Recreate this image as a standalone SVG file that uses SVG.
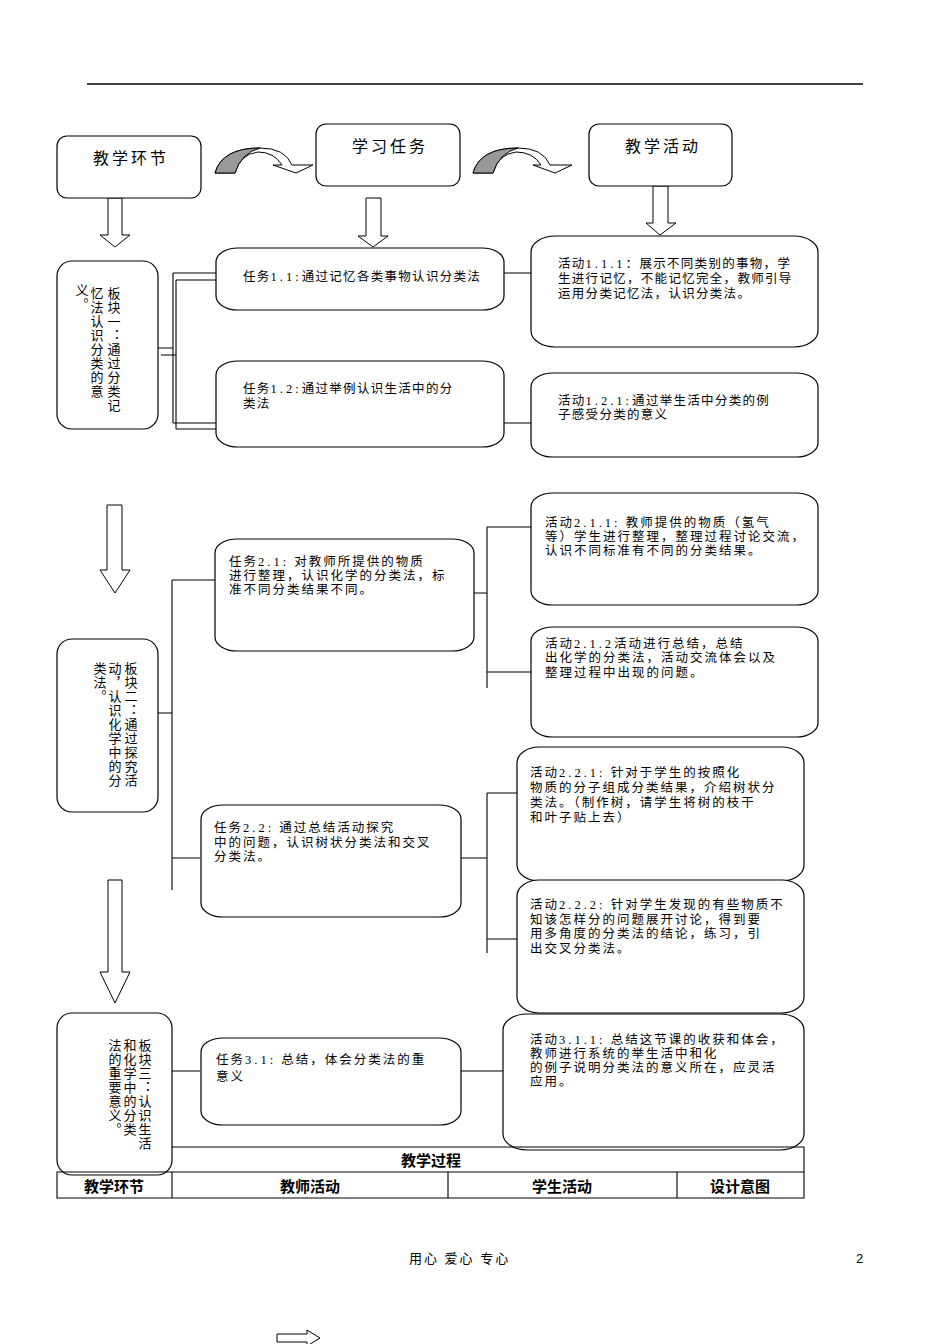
<svg xmlns="http://www.w3.org/2000/svg" width="950" height="1344" viewBox="0 0 950 1344">
<style>
.bx{fill:#fff;stroke:#000;stroke-width:1.2}
.ln{fill:none;stroke:#000;stroke-width:1.1}
.ar{fill:#fff;stroke:#000;stroke-width:1}
.gr{fill:#999;stroke:#000;stroke-width:1}
.t{font-family:"Liberation Serif","Noto Sans CJK SC",serif;font-size:12.5px;letter-spacing:1.3px;fill:#000}
.t2{font-family:"Liberation Serif","Noto Sans CJK SC",serif;font-size:12.5px;letter-spacing:2px;fill:#000}
.n{letter-spacing:3px}
.h{font-family:"Liberation Serif","Noto Sans CJK SC",serif;font-size:16px;letter-spacing:3px;fill:#000;text-anchor:middle}
.v{font-family:"Liberation Serif","Noto Sans CJK SC",serif;font-size:13px;letter-spacing:0.9px;fill:#000;writing-mode:vertical-rl}
.tb{font-family:"Liberation Sans","Noto Sans CJK SC",sans-serif;font-size:15px;font-weight:bold;fill:#000;text-anchor:middle}
.f{font-family:"Liberation Sans","Noto Sans CJK SC",sans-serif;font-size:13px;fill:#000}
</style>
<line x1="87" y1="84" x2="863" y2="84" stroke="#000" stroke-width="1.6"/>

<g id="connectors">
  <path class="ar" d="M215,173 Q222,148 260,148 Q285,148 292,165 L313,165 L296,173 L273,165 L282,165 Q274,152 258,152 Q240,154 235,173 Z"/>
  <path class="gr" d="M215,173 Q222,148 260,148 Q241,153 235,173 Z"/>
  <path class="ar" d="M473,173 Q480,148 518,148 Q543,148 550,165 L572,165 L555,173 L533,165 L541,165 Q533,152 516,152 Q498,154 493,173 Z"/>
  <path class="gr" d="M473,173 Q480,148 518,148 Q499,153 493,173 Z"/>
  <path class="ar" d="M108,198 L122,198 L122,235 L130,235 L115,247 L100,235 L108,235 Z"/>
  <path class="ar" d="M366,198 L381,198 L381,236 L388,236 L373,247 L358,236 L366,236 Z"/>
  <path class="ar" d="M653,186 L668,186 L668,223 L676,223 L660,235 L646,223 L653,223 Z"/>
  <path class="ar" d="M107,505 L122,505 L122,570 L130,570 L115,593 L100,570 L107,570 Z"/>
  <path class="ar" d="M108,880 L122,880 L122,972 L130,972 L115,1003 L100,972 L108,972 Z"/>
  <path class="ln" d="M158,348 H173 M161,355 H176 M173,273 V423 M176,280 V429 M173,273 H216 M176,280 H216 M173,423 H216 M176,429 H216"/>
  <path class="ln" d="M504,273 H531 M504,423 H531"/>
  <path class="ln" d="M158,713 H172 M172,580 V890 M172,580 H215 M172,858 H200"/>
  <path class="ln" d="M474,593 H487 M487,527 V688 M487,527 H531 M487,672 H531"/>
  <path class="ln" d="M461,858 H487 M487,793 V953 M487,793 H517 M487,939 H517"/>
  <path class="ln" d="M172,1071 H200 M461,1071 H503"/>
</g>

<g id="hdr1"><rect class="bx" x="57" y="136" width="144" height="62" rx="10"/><text class="h" x="131" y="164">教学环节</text></g>
<g id="hdr2"><rect class="bx" x="316" y="124" width="144" height="62" rx="10"/><text class="h" x="390" y="152">学习任务</text></g>
<g id="hdr3"><rect class="bx" x="589" y="124" width="143" height="62" rx="10"/><text class="h" x="663" y="152">教学活动</text></g>

<g id="block1"><rect class="bx" x="57" y="261" width="101" height="168" rx="15"/>
  <text class="v" x="113" y="287">板块一：通过分类记</text>
  <text class="v" x="96" y="287">忆法认识分类的意</text>
  <text class="v" x="81" y="284">义。</text>
</g>
<g id="task11"><rect class="bx" x="216" y="248" width="288" height="62" rx="22" ry="14"/>
  <text class="t" x="243" y="281">任务<tspan class="n">1.1:</tspan>通过记忆各类事物认识分类法</text></g>
<g id="task12"><rect class="bx" x="216" y="361" width="288" height="86" rx="22" ry="14"/>
  <text class="t" x="243" y="393">任务<tspan class="n">1.2:</tspan>通过举例认识生活中的分</text>
  <text class="t" x="243" y="408">类法</text></g>
<g id="act111"><rect class="bx" x="531" y="236" width="287" height="111" rx="24" ry="16"/>
  <text class="t" x="558" y="268">活动<tspan class="n">1.1.1</tspan>：展示不同类别的事物，学</text>
  <text class="t" x="558" y="283">生进行记忆，不能记忆完全，教师引导</text>
  <text class="t" x="558" y="298">运用分类记忆法，认识分类法。</text></g>
<g id="act121"><rect class="bx" x="531" y="373" width="287" height="84" rx="22" ry="14"/>
  <text class="t" x="558" y="405">活动<tspan class="n">1.2.1:</tspan>通过举生活中分类的例</text>
  <text class="t" x="558" y="419">子感受分类的意义</text></g>

<g id="block2"><rect class="bx" x="57" y="639" width="101" height="173" rx="15"/>
  <text class="v" x="130" y="662">板块二：通过探究活</text>
  <text class="v" x="114" y="662">动，认识化学中的分</text>
  <text class="v" x="99" y="662">类法。</text>
</g>
<g id="task21"><rect class="bx" x="215" y="539" width="259" height="112" rx="22" ry="14"/>
  <text class="t2" x="229" y="566">任务<tspan class="n">2.1:</tspan> 对教师所提供的物质</text>
  <text class="t2" x="229" y="580">进行整理，认识化学的分类法，标</text>
  <text class="t2" x="229" y="594">准不同分类结果不同。</text></g>
<g id="act211"><rect class="bx" x="531" y="493" width="287" height="112" rx="22" ry="14"/>
  <text class="t2" x="545" y="527">活动<tspan class="n">2.1.1:</tspan> 教师提供的物质（氢气</text>
  <text class="t2" x="545" y="541">等）学生进行整理，整理过程讨论交流，</text>
  <text class="t2" x="545" y="555">认识不同标准有不同的分类结果。</text></g>
<g id="act212"><rect class="bx" x="531" y="627" width="287" height="110" rx="22" ry="14"/>
  <text class="t2" x="545" y="648">活动<tspan class="n">2.1.2</tspan>活动进行总结，总结</text>
  <text class="t2" x="545" y="662">出化学的分类法，活动交流体会以及</text>
  <text class="t2" x="545" y="677">整理过程中出现的问题。</text></g>
<g id="task22"><rect class="bx" x="201" y="805" width="260" height="112" rx="22" ry="14"/>
  <text class="t2" x="214" y="832">任务<tspan class="n">2.2:</tspan> 通过总结活动探究</text>
  <text class="t2" x="214" y="847">中的问题，认识树状分类法和交叉</text>
  <text class="t2" x="214" y="861">分类法。</text></g>
<g id="act221"><rect class="bx" x="517" y="747" width="287" height="134" rx="22" ry="16"/>
  <text class="t2" x="530" y="777">活动<tspan class="n">2.2.1:</tspan> 针对于学生的按照化</text>
  <text class="t2" x="530" y="792">物质的分子组成分类结果，介绍树状分</text>
  <text class="t2" x="530" y="807">类法。（制作树，请学生将树的枝干</text>
  <text class="t2" x="530" y="822">和叶子贴上去）</text></g>
<g id="act222"><rect class="bx" x="517" y="880" width="287" height="133" rx="22" ry="16"/>
  <text class="t2" x="530" y="909">活动<tspan class="n">2.2.2:</tspan> 针对学生发现的有些物质不</text>
  <text class="t2" x="530" y="924">知该怎样分的问题展开讨论，得到要</text>
  <text class="t2" x="530" y="938">用多角度的分类法的结论，练习，引</text>
  <text class="t2" x="530" y="953">出交叉分类法。</text></g>

<g id="block3"><rect class="bx" x="57" y="1013" width="115" height="162" rx="15"/>
  <text class="v" x="144" y="1039">板块三：认识生活</text>
  <text class="v" x="129" y="1039">和化学中的分类</text>
  <text class="v" x="114" y="1039">法的重要意义。</text>
</g>
<g id="task31"><rect class="bx" x="201" y="1038" width="260" height="87" rx="22" ry="14"/>
  <text class="t2" x="216" y="1064">任务<tspan class="n">3.1:</tspan> 总结，体会分类法的重</text>
  <text class="t2" x="216" y="1081">意义</text></g>
<g id="act311"><rect class="bx" x="503" y="1014" width="301" height="136" rx="24" ry="16"/>
  <text class="t2" x="530" y="1044">活动<tspan class="n">3.1.1:</tspan> 总结这节课的收获和体会，</text>
  <text class="t2" x="530" y="1058">教师进行系统的举生活中和化</text>
  <text class="t2" x="530" y="1072">的例子说明分类法的意义所在，应灵活</text>
  <text class="t2" x="530" y="1086">应用。</text></g>

<g id="table">
  <path class="ln" d="M172,1147 H804 V1198 H57 V1172 H804 M172,1172 V1198 M448,1172 V1198 M677,1172 V1198" stroke-width="1"/>
  <text class="tb" x="431" y="1166">教学过程</text>
  <text class="tb" x="114" y="1192">教学环节</text>
  <text class="tb" x="310" y="1192">教师活动</text>
  <text class="tb" x="562" y="1192">学生活动</text>
  <text class="tb" x="740" y="1192">设计意图</text>
</g>

<text class="f" x="409" y="1263" letter-spacing="2">用心  爱心  专心</text>
<text class="f" x="856" y="1263">2</text>
<path class="ar" d="M277,1334 L307,1334 L307,1330 L320,1338 L307,1346 L307,1342 L277,1342 Z"/>
</svg>
